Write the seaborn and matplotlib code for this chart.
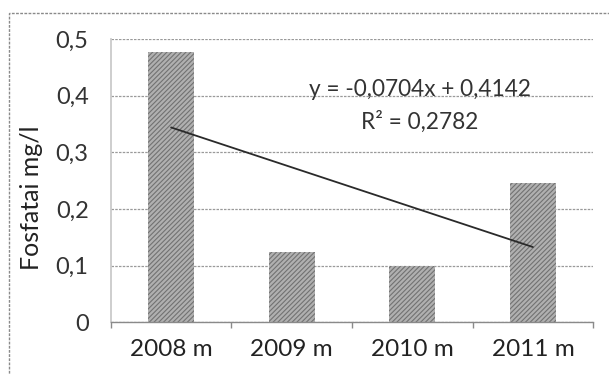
import matplotlib
matplotlib.use("Agg")
import matplotlib.pyplot as plt
import seaborn as sns
import pandas as pd
from matplotlib.patches import Rectangle

# Phosphate concentration by year
years = ["2008 m", "2009 m", "2010 m", "2011 m"]
fosfatai = [0.477, 0.123, 0.100, 0.245]

# Linear trend (Excel style, x = 1..n)
slope = -0.0704
intercept = 0.4142
r_squared = 0.2782

y_ticks = [0, 0.1, 0.2, 0.3, 0.4, 0.5]
y_tick_labels = ["0", "0,1", "0,2", "0,3", "0,4", "0,5"]

df = pd.DataFrame({"metai": years, "fosfatai": fosfatai})

sns.set_theme(style="white")
plt.rcParams["font.family"] = ["Lato", "DejaVu Sans"]
plt.rcParams["hatch.linewidth"] = 0.8

fig = plt.figure(figsize=(6.09, 3.75), dpi=100)
ax = fig.add_axes([0.182, 0.141, 0.792, 0.755])

sns.barplot(data=df, x="metai", y="fosfatai", order=years, color="#b0b0b0",
            width=0.38, saturation=1, ax=ax, edgecolor="#727272", linewidth=0)
for bar in ax.patches:
    bar.set_hatch("///////")

# Trend line from the first to the last category
xs = list(range(len(years)))
trend = [slope * (i + 1) + intercept for i in xs]
ax.plot(xs, trend, color="#2a2a2a", lw=1.3, zorder=5)

eq_text = f"y = {slope:.4f}x + {intercept:.4f}".replace(".", ",")
r2_text = f"R² = {r_squared:.4f}".replace(".", ",")
ax.text(2.06, 0.41, eq_text, ha="center", va="center", fontsize=16.3, color="#333333")
ax.text(2.06, 0.353, r2_text, ha="center", va="center", fontsize=16.3, color="#333333")

ax.set_xlim(-0.5, 3.5)
ax.set_ylim(0, 0.5)
ax.set_yticks(y_ticks)
ax.set_yticklabels(y_tick_labels)
ax.yaxis.grid(True, color="#9a9a9a", lw=0.9, ls=(0, (2, 1)))
ax.set_axisbelow(True)

for side in ["top", "right"]:
    ax.spines[side].set_visible(False)
ax.spines["left"].set_color("#c8c8c8")
ax.spines["bottom"].set_color("#8a8a8a")
ax.spines["bottom"].set_linewidth(1.0)

ax.set_xticks([-0.5, 0.5, 1.5, 2.5, 3.5], minor=True)
ax.tick_params(axis="x", which="minor", length=4, color="#8a8a8a", bottom=True)
ax.tick_params(axis="x", which="major", length=0, pad=12, labelsize=17.5, labelcolor="#222222")
ax.tick_params(axis="y", length=0, pad=16, labelsize=17, labelcolor="#333333")

ax.set_xlabel("")
ax.set_ylabel("Fosfatai mg/l", fontsize=18, color="#222222", labelpad=2)
ax.yaxis.set_label_coords(-0.14, 0.44)

# Dashed frame around the chart area
fig.patches.append(Rectangle((0.014, -0.01), 1.0, 0.975, transform=fig.transFigure,
                             fill=False, ec="#8a8a8a", lw=1.0, ls=(0, (2, 1))))

fig.savefig("out.png", dpi=100, facecolor="white")
